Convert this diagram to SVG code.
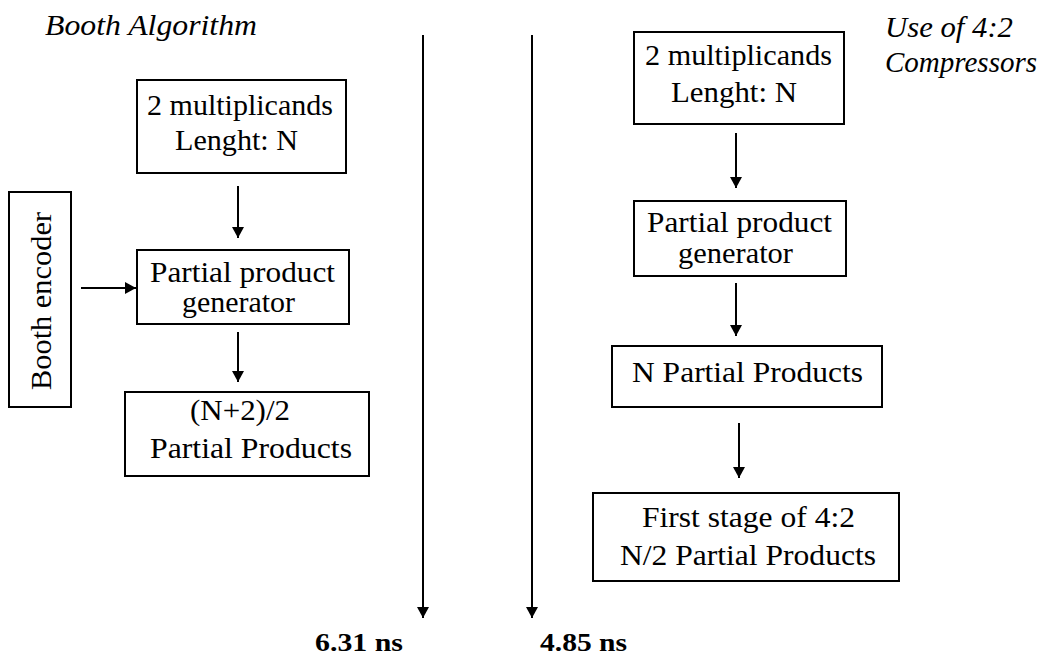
<svg xmlns="http://www.w3.org/2000/svg" width="1044" height="657" viewBox="0 0 1044 657">
<style>
.box{fill:#fff;stroke:#000;stroke-width:2}
.t{font-family:"Liberation Serif","Times New Roman",serif;font-size:29px;fill:#000}
.it{font-family:"Liberation Serif","Times New Roman",serif;font-style:italic;font-size:29px;fill:#000}
.b{font-family:"Liberation Serif","Times New Roman",serif;font-weight:bold;font-size:25px;fill:#000}
.c{stroke:#000;stroke-width:2;fill:none;marker-end:url(#ah)}
</style>
<defs>
<marker id="ah" markerUnits="userSpaceOnUse" markerWidth="12" markerHeight="12" refX="11" refY="6" orient="auto">
<path d="M0,0 L11,6 L0,12 z" fill="#000"/>
</marker>
</defs>
<rect width="1044" height="657" fill="#fff"/>
<text class="it" x="45" y="35" textLength="212" lengthAdjust="spacingAndGlyphs">Booth Algorithm</text>
<text class="it" x="885" y="37" textLength="128" lengthAdjust="spacingAndGlyphs">Use of 4:2</text>
<text class="it" x="885" y="72" textLength="152" lengthAdjust="spacingAndGlyphs">Compressors</text>
<g id="connectors">
<line class="c" x1="238" y1="186" x2="238" y2="238"/>
<line class="c" x1="81" y1="288" x2="136" y2="288"/>
<line class="c" x1="238" y1="332" x2="238" y2="382"/>
<line class="c" x1="423" y1="35" x2="423" y2="618"/>
<line class="c" x1="532" y1="35" x2="532" y2="618"/>
<line class="c" x1="736" y1="133" x2="736" y2="188"/>
<line class="c" x1="736" y1="283" x2="736" y2="336"/>
<line class="c" x1="739" y1="423" x2="739" y2="478"/>
</g>
<g id="l-mult">
<rect class="box" x="137" y="80" width="209" height="93"/>
<text class="t" x="147" y="115" textLength="186" lengthAdjust="spacingAndGlyphs">2 multiplicands</text>
<text class="t" x="175" y="150" textLength="123" lengthAdjust="spacingAndGlyphs">Lenght: N</text>
</g>
<g id="l-encoder">
<rect class="box" x="9" y="192" width="62" height="215"/>
<text class="t" transform="translate(51,390) rotate(-90)" x="0" y="0" textLength="178" lengthAdjust="spacingAndGlyphs">Booth encoder</text>
</g>
<g id="l-ppg">
<rect class="box" x="137" y="250" width="212" height="74"/>
<text class="t" x="150" y="282" textLength="185" lengthAdjust="spacingAndGlyphs">Partial product</text>
<text class="t" x="182" y="312" textLength="113" lengthAdjust="spacingAndGlyphs">generator</text>
</g>
<g id="l-pp">
<rect class="box" x="125" y="392" width="244" height="84"/>
<text class="t" x="190" y="420" textLength="100" lengthAdjust="spacingAndGlyphs">(N+2)/2</text>
<text class="t" x="150" y="458" textLength="202" lengthAdjust="spacingAndGlyphs">Partial Products</text>
</g>
<g id="r-mult">
<rect class="box" x="634" y="32" width="210" height="92"/>
<text class="t" x="645" y="65" textLength="187" lengthAdjust="spacingAndGlyphs">2 multiplicands</text>
<text class="t" x="671" y="102" textLength="126" lengthAdjust="spacingAndGlyphs">Lenght: N</text>
</g>
<g id="r-ppg">
<rect class="box" x="634" y="201" width="212" height="75"/>
<text class="t" x="647" y="232" textLength="185" lengthAdjust="spacingAndGlyphs">Partial product</text>
<text class="t" x="678" y="263" textLength="115" lengthAdjust="spacingAndGlyphs">generator</text>
</g>
<g id="r-npp">
<rect class="box" x="612" y="346" width="270" height="61"/>
<text class="t" x="632" y="382" textLength="231" lengthAdjust="spacingAndGlyphs">N Partial Products</text>
</g>
<g id="r-first">
<rect class="box" x="593" y="493" width="306" height="88"/>
<text class="t" x="642" y="527" textLength="213" lengthAdjust="spacingAndGlyphs">First stage of 4:2</text>
<text class="t" x="620" y="565" textLength="256" lengthAdjust="spacingAndGlyphs">N/2 Partial Products</text>
</g>
<g id="times">
<text class="b" x="315" y="651" textLength="88" lengthAdjust="spacingAndGlyphs">6.31 ns</text>
<text class="b" x="540" y="651" textLength="87" lengthAdjust="spacingAndGlyphs">4.85 ns</text>
</g>
</svg>
